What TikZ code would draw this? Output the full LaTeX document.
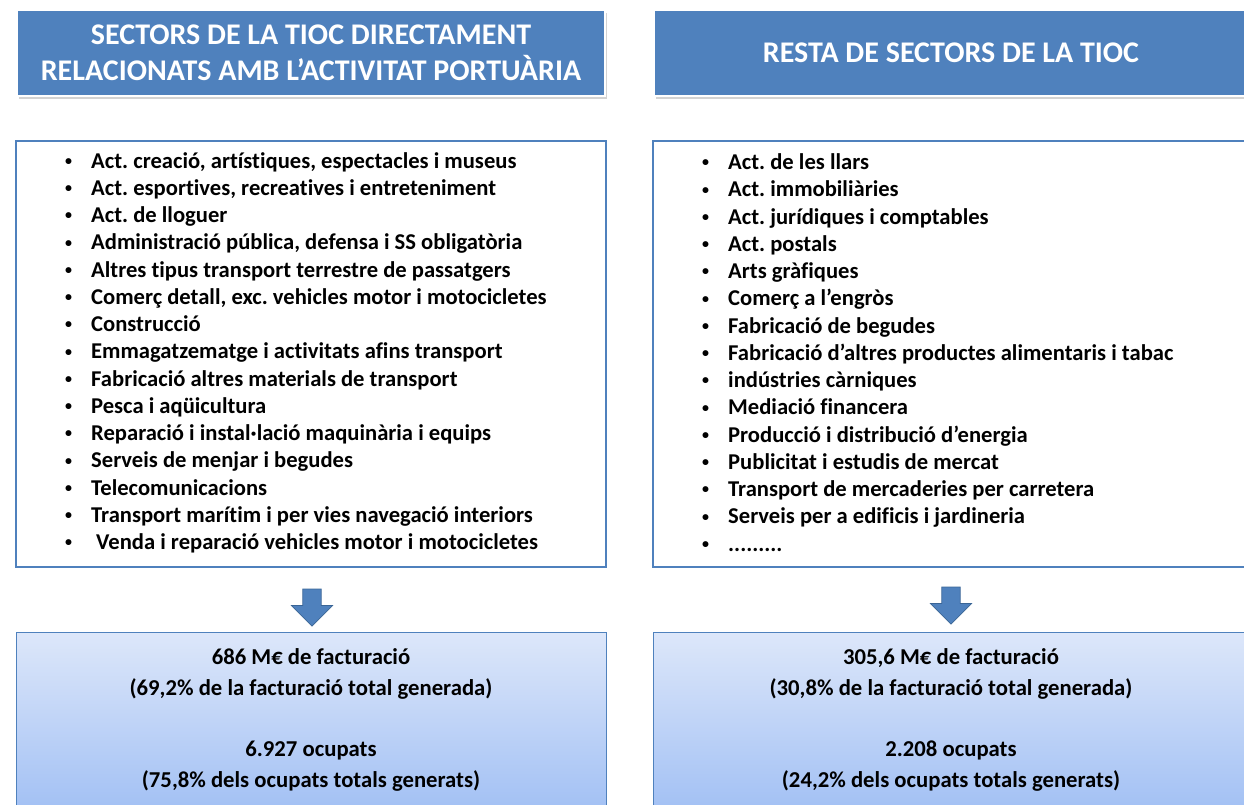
\documentclass[tikz,border=0pt]{standalone}
\usepackage{fontspec}
\setmainfont[Ligatures=NoCommon]{Carlito}
\usetikzlibrary{shapes.arrows,shadows}
\definecolor{hdrblue}{HTML}{4F81BD}
\definecolor{arrowedge}{HTML}{3A6596}
\definecolor{gradtop}{HTML}{DDE7FA}
\definecolor{gradbot}{HTML}{A3C1F4}
\newcommand{\bul}{\makebox[26pt][l]{\raisebox{0.12em}{\scalebox{0.62}{\textbullet}}}}
\frenchspacing

\begin{document}
\begin{tikzpicture}[x=1pt,y=-1pt,
  header/.style={fill=hdrblue,draw=white,line width=2.5pt,
    drop shadow={opacity=0.35,shadow xshift=1.5pt,shadow yshift=-3pt},
    text=white,font=\fontsize{30}{36}\selectfont\bfseries,align=center,
    minimum height=86pt,inner sep=0pt},
  listbox/.style={draw=hdrblue,line width=2pt,minimum height=426pt,inner sep=0pt},
  listtext/.style={anchor=base west,align=left,inner sep=0pt,
    font=\fontsize{22.6}{27.25}\selectfont\bfseries},
  resultbox/.style={draw=hdrblue,line width=1pt,top color=gradtop,bottom color=gradbot,
    minimum height=176pt,inner sep=0pt,align=center,
    font=\fontsize{22.7}{30.8}\selectfont\bfseries},
  blockarrow/.style={single arrow,rotate=-90,fill=hdrblue,draw=arrowedge,line width=0.8pt,
    minimum height=37pt,minimum width=41pt,inner sep=8.5pt,single arrow head extend=11pt}]
\useasboundingbox (0,0) rectangle (1244,805);
\clip (0,0) rectangle (1244,805);

\node[header,minimum width=588pt] (hdrL) at (311,53)
  {SECTORS DE LA TIOC DIRECTAMENT\\RELACIONATS AMB L’ACTIVITAT PORTUÀRIA};
\node[header,minimum width=594pt] (hdrR) at (951,53) {RESTA DE SECTORS DE LA TIOC};

\node[listbox,minimum width=590pt] (boxL) at (311,354) {};
\node[listbox,minimum width=596pt] (boxR) at (951,354) {};

% base anchor sits on the last line
\node[listtext] (listL) at (65,549.5) {%
\bul Act. creació, artístiques, espectacles i museus\\
\bul Act. esportives, recreatives i entreteniment\\
\bul Act. de lloguer\\
\bul Administració pública, defensa i SS obligatòria\\
\bul Altres tipus transport terrestre de passatgers\\
\bul Comerç detall, exc. vehicles motor i motocicletes\\
\bul Construcció\\
\bul Emmagatzematge i activitats afins transport\\
\bul Fabricació altres materials de transport\\
\bul Pesca i aqüicultura\\
\bul Reparació i instal·lació maquinària i equips\\
\bul Serveis de menjar i begudes\\
\bul Telecomunicacions\\
\bul Transport marítim i per vies navegació interiors\\
\bul\hspace{5pt}Venda i reparació vehicles motor i motocicletes};

\node[listtext] (listR) at (702,551) {%
\bul Act. de les llars\\
\bul Act. immobiliàries\\
\bul Act. jurídiques i comptables\\
\bul Act. postals\\
\bul Arts gràfiques\\
\bul Comerç a l’engròs\\
\bul Fabricació de begudes\\
\bul Fabricació d’altres productes alimentaris i tabac\\
\bul indústries càrniques\\
\bul Mediació financera\\
\bul Producció i distribució d’energia\\
\bul Publicitat i estudis de mercat\\
\bul Transport de mercaderies per carretera\\
\bul Serveis per a edificis i jardineria\\
\bul .........};

\node[blockarrow] (arrL) at (312,603) {};
\node[blockarrow] (arrR) at (951,601) {};

\node[resultbox,minimum width=590pt] (resL) at (311,720)
  {686 M€ de facturació\\(69,2\% de la facturació total generada)\\[30.8pt]
   6.927 ocupats\\(75,8\% dels ocupats totals generats)};
\node[resultbox,minimum width=596pt] (resR) at (951,720)
  {305,6 M€ de facturació\\(30,8\% de la facturació total generada)\\[30.8pt]
   2.208 ocupats\\(24,2\% dels ocupats totals generats)};
\end{tikzpicture}
\end{document}
